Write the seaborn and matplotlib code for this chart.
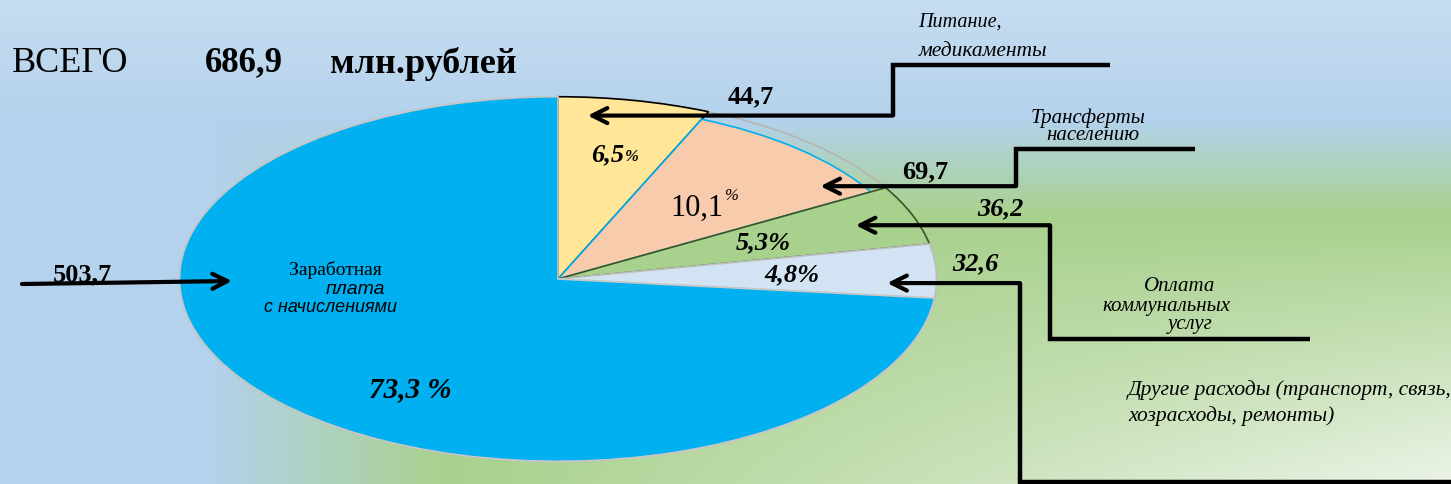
import numpy as np
import matplotlib
matplotlib.use('Agg')
import matplotlib.pyplot as plt
import seaborn as sns
from matplotlib.patches import Circle

# данные (млн. рублей), порядок по часовой стрелке от вертикали
categories = ['Питание, медикаменты', 'Трансферты населению', 'Оплата коммунальных услуг',
              'Другие расходы (транспорт, связь, хозрасходы, ремонты)',
              'Заработная плата с начислениями']
values = [44.7, 69.7, 36.2, 32.6, 503.7]
value_labels = ['44,7', '69,7', '36,2', '32,6', '503,7']
share_labels = ['6,5', '10,1', '5,3%', '4,8%', '73,3 %']
total_label = '686,9'

sns.set_theme(style='white')
plt.rcParams['font.family'] = ['Liberation Serif', 'DejaVu Serif']
plt.rcParams['text.color'] = 'black'

W, H = 1451, 485
fig = plt.figure(figsize=(W / 100, H / 100), dpi=100)

# фон: голубой сверху/слева, зелёный справа, светлеет к правому нижнему углу
bg = fig.add_axes([0, 0, 1, 1], zorder=0)
yy, xx = np.mgrid[0:H, 0:W]
c_top = np.array([198, 221, 241]) / 255
c_blue = np.array([180, 210, 236]) / 255
c_green = np.array([169, 209, 142]) / 255
c_white = np.array([236, 244, 232]) / 255
t = np.clip(yy / 120, 0, 1)[..., None]
img = c_top * (1 - t) + c_blue * t
g = (np.clip((xx - 212) / 230, 0, 1) * np.clip((yy - 120) / 95, 0, 1))[..., None]
w = (np.clip((yy - 220) / 265, 0, 1) * np.clip((xx - 450) / 1000, 0, 1))[..., None]
img = img * (1 - g) + (c_green * (1 - w) + c_white * w) * g
bg.imshow(img, aspect='auto', extent=(0, W, H, 0))
bg.set_axis_off()

# круговая диаграмма в вытянутой области -> эллипс
cx, cy, rx, ry = 558, 280, 380, 183
pax = fig.add_axes([(cx - rx) / W, (H - cy - ry) / H, 2 * rx / W, 2 * ry / H], zorder=1)
colors = ['#ffe699', '#f8cbad', '#a9d18e', '#d2e4f4', '#00b0f0']
edges = ['black', '#00b0f0', '#385723', '#bfbfbf', '#c8c8c8']
wedges, _ = pax.pie(values, colors=colors, startangle=90, counterclock=False,
                    wedgeprops=dict(linewidth=1.2))
for wd, ec in zip(wedges, edges):
    wd.set_edgecolor(ec)
wedges[1].set_radius(0.955)
pax.add_patch(Circle((0, 0), 1, fill=False, ec='#b5b5b5', lw=1.2, zorder=0))
pax.set_xlim(-1.004, 1.004)
pax.set_ylim(-1.004, 1.004)
pax.set_aspect('auto')
pax.set_axis_off()

ax = fig.add_axes([0, 0, 1, 1], zorder=2)
ax.set_xlim(0, W)
ax.set_ylim(H, 0)
ax.set_axis_off()
ax.patch.set_alpha(0)


def to_px(r, theta):
    a = np.deg2rad(theta)
    p = pax.transData.transform((r * np.cos(a), r * np.sin(a)))
    return ax.transData.inverted().transform(p)


def mid(i):
    return (wedges[i].theta1 + wedges[i].theta2) / 2


# заголовок
ax.text(12, 72, 'ВСЕГО', fontsize=26, va='baseline')
ax.text(205, 71, total_label, fontsize=25, fontweight='bold', va='baseline')
ax.text(330, 73, 'млн.рублей', fontsize=26, fontweight='bold', va='baseline')

# проценты внутри секторов
x, y = to_px(0.7, mid(0))
ax.text(x + 12, y, share_labels[0], fontsize=19, fontweight='bold', style='italic',
        ha='right', va='center')
ax.text(x + 13, y + 2, '%', fontsize=12, fontweight='bold', style='italic', ha='left', va='center')
x, y = to_px(0.6, mid(1))
ax.text(x + 14, y + 10, share_labels[1], fontsize=22, ha='right', va='center')
ax.text(x + 15, y - 2, '%', fontsize=12, style='italic', ha='left', va='center')
x, y = to_px(0.58, mid(2))
ax.text(x, y, share_labels[2], fontsize=19, fontweight='bold', style='italic', ha='center', va='center')
x, y = to_px(0.62, mid(3))
ax.text(x, y, share_labels[3], fontsize=19, fontweight='bold', style='italic', ha='center', va='center')
ax.text(410, 390, share_labels[4], fontsize=21, fontweight='bold', style='italic',
        ha='center', va='center')

# подпись основного сектора
ax.text(335, 270, 'Заработная', fontsize=14, ha='center', va='center')
ax.text(385, 290, 'плата', fontsize=14, style='italic', family='Liberation Sans',
        ha='right', va='center')
ax.text(397, 308, 'с начислениями', fontsize=13, style='italic', family='Liberation Sans',
        ha='right', va='center')

arrow = dict(arrowstyle='->,head_length=0.9,head_width=0.45', color='black', lw=3,
             shrinkA=0, shrinkB=0)


def leader(points, tip):
    xs, ys = zip(*points)
    ax.plot(xs, ys, color='black', lw=3.2, solid_joinstyle='miter', solid_capstyle='butt')
    ax.annotate('', xy=tip, xytext=points[-1], arrowprops=arrow)


# 503,7
ax.annotate('', xy=(232, 282), xytext=(22, 285), arrowprops=arrow)
ax.text(82, 275, value_labels[4], fontsize=19, fontweight='bold', ha='center', va='center')

# 44,7 питание
tip = to_px(0.9, wedges[0].theta2 - 5)
leader([(1110, 66), (893, 66), (893, tip[1])], tip)
ax.text(751, 97, value_labels[0], fontsize=19, fontweight='bold', ha='center', va='center')
ax.text(960, 22, 'Питание,', fontsize=14.5, style='italic', ha='center', va='center')
ax.text(983, 52, 'медикаменты', fontsize=15.5, style='italic', ha='center', va='center')

# 69,7 трансферты
tip = to_px(0.86, mid(1) - 12)
leader([(1195, 150), (1016, 150), (1016, tip[1])], tip)
ax.text(925, tip[1] - 15, value_labels[1], fontsize=19, fontweight='bold', ha='center', va='center')
ax.text(1088, 118, 'Трансферты', fontsize=15, style='italic', ha='center', va='center')
ax.text(1093, 136, 'населению', fontsize=15, style='italic', ha='center', va='center')

# 36,2 коммунальные
tip = to_px(0.84, mid(2))
leader([(1310, 340), (1050, 340), (1050, tip[1])], tip)
ax.text(1000, tip[1] - 17, value_labels[2], fontsize=19, fontweight='bold', style='italic',
        ha='center', va='center')
ax.text(1180, 287, 'Оплата', fontsize=15, style='italic', ha='center', va='center')
ax.text(1166, 307, 'коммунальных', fontsize=15, style='italic', ha='center', va='center')
ax.text(1190, 325, 'услуг', fontsize=15, style='italic', ha='center', va='center')

# 32,6 другие
tip = to_px(0.87, mid(3) - 4)
leader([(1451, 483), (1020, 483), (1020, tip[1])], tip)
ax.text(975, tip[1] - 20, value_labels[3], fontsize=19, fontweight='bold', style='italic',
        ha='center', va='center')
ax.text(1128, 390, 'Другие расходы (транспорт, связь,', fontsize=15.5, style='italic',
        ha='left', va='center')
ax.text(1128, 416, 'хозрасходы, ремонты)', fontsize=15.5, style='italic', ha='left', va='center')

fig.savefig('out.png', dpi=100)
